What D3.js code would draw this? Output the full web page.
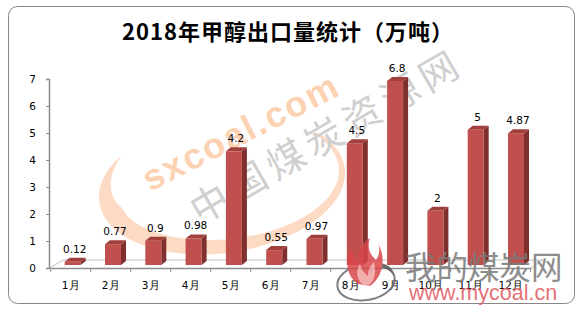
<!DOCTYPE html>
<html>
<head>
<meta charset="utf-8">
<script src="https://cdn.jsdelivr.net/npm/d3@7"></script>
<style>
  body { margin: 0; background: #fff; }
  svg { display: block; }
  .tick text { font-family: "DejaVu Sans", Verdana, sans-serif; font-size: 10.5px; fill: #000; }
</style>
</head>
<body>
<svg id="chart" width="580" height="313"></svg>
<script>
// data
const months = ["1月", "2月", "3月", "4月", "5月", "6月", "7月", "8月", "9月", "10月", "11月", "12月"];
const exports = [0.12, 0.77, 0.9, 0.98, 4.2, 0.55, 0.97, 4.5, 6.8, 2, 5, 4.87];
const yTicks = [0, 1, 2, 3, 4, 5, 6, 7];
const title = "2018年甲醇出口量统计（万吨）";

const svg = d3.select("#chart");

// outer frame
svg.append("rect")
  .attr("x", 8.5).attr("y", 6.5)
  .attr("width", 566).attr("height", 297)
  .attr("rx", 9)
  .attr("fill", "#fff")
  .attr("stroke", "#878787");

svg.append("text")
  .attr("x", 288).attr("y", 40)
  .attr("text-anchor", "middle")
  .attr("font-family", "'Noto Sans CJK SC', sans-serif")
  .attr("font-weight", "bold")
  .attr("font-size", 22)
  .attr("letter-spacing", 1)
  .text(title);

// watermark behind the plot
const wm = svg.append("g").attr("id", "watermark");

// orange crescent (lower part of a tilted ellipse, thick on the left)
const cx = 222, cy = 185, rx = 124, ry = 68, rot = -8 * Math.PI / 180;
const pt = (t, r) => {
  const ex = (rx + r) * Math.cos(t), ey = (ry + r) * Math.sin(t);
  return [cx + ex * Math.cos(rot) - ey * Math.sin(rot), cy + ex * Math.sin(rot) + ey * Math.cos(rot)];
};
const t0 = 220 * Math.PI / 180, t1 = -35 * Math.PI / 180;
const steps = d3.range(0, 1.0001, 0.02);
const thick = s => s < 0.2 ? 20 * s / 0.2 : 20 * (1 - 0.85 * (s - 0.2) / 0.8);
const outer = steps.map(s => pt(t0 + (t1 - t0) * s, 0));
const inner = steps.slice().reverse().map(s => pt(t0 + (t1 - t0) * s, -thick(s)));
wm.append("path")
  .attr("d", d3.line().curve(d3.curveLinearClosed)(outer.concat(inner)))
  .attr("fill", "#fcdac4");

wm.append("text")
  .attr("transform", "translate(150,192) rotate(-27)")
  .attr("font-family", "'Liberation Sans', Arial, sans-serif")
  .attr("font-weight", "bold")
  .attr("font-size", 36)
  .attr("letter-spacing", 2)
  .attr("fill", "#fcd2b3")
  .text("sxcoal.com");

wm.append("text")
  .attr("transform", "translate(200,225) rotate(-30)")
  .attr("font-family", "'Noto Sans CJK SC', sans-serif")
  .attr("font-size", 38)
  .attr("letter-spacing", 6)
  .attr("fill", "#cfcfcf")
  .text("中国煤炭资源网");

// scales
const x = d3.scaleBand().domain(months).range([50.7, 530.7]);
const yAxisScale = d3.scaleLinear().domain([0, 7]).range([268, 79]);
const yBar = d3.scaleLinear().domain([0, 7]).range([265, 75.5]);
const barW = 16, depthX = 5, depthY = 4;
const shift = i => 2 + i * 0.3;

// floor
const floorBack = 260;
svg.append("path")
  .attr("d", d3.line()([[50, 268], [63, floorBack], [543, floorBack], [530.7, 268]]))
  .attr("fill", "none")
  .attr("stroke", "#bfbfbf");

// y axis
const yAxis = d3.axisLeft(yAxisScale).tickValues(yTicks).tickSize(3).tickPadding(10).tickFormat(d3.format("d"));
const gy = svg.append("g").attr("transform", "translate(49,0)").call(yAxis);
gy.select(".domain").attr("stroke", "#8c8c8c").attr("stroke-width", 1.5);
gy.selectAll(".tick line").attr("stroke", "#8c8c8c");

// x axis
const xAxis = d3.axisBottom(x).tickSize(0).tickPadding(14);
const gx = svg.append("g").attr("transform", "translate(0,268)").call(xAxis);
gx.select(".domain").attr("stroke", "#8c8c8c").attr("stroke-width", 1.5);
gx.selectAll(".tick text").attr("font-family", "'Noto Sans CJK SC', sans-serif").attr("font-size", 11);
gx.selectAll(".xsep")
  .data(months.concat(["end"]))
  .enter().append("line")
  .attr("x1", (d, i) => x.range()[0] + i * x.bandwidth())
  .attr("x2", (d, i) => x.range()[0] + i * x.bandwidth())
  .attr("y1", 0).attr("y2", 4)
  .attr("stroke", "#8c8c8c");

// 3d bars
const bars = svg.append("g").attr("id", "bars")
  .selectAll("g")
  .data(exports)
  .enter().append("g")
  .attr("transform", (d, i) => `translate(${x(months[i]) + (x.bandwidth() - barW) / 2 + shift(i)},0)`);

bars.append("polygon")
  .attr("points", d => [[barW, yBar(d)], [barW + depthX, yBar(d) - depthY], [barW + depthX, yBar(0) - depthY], [barW, yBar(0)]].join(" "))
  .attr("fill", "#7f302e");
bars.append("polygon")
  .attr("points", d => [[0, yBar(d)], [depthX, yBar(d) - depthY], [barW + depthX, yBar(d) - depthY], [barW, yBar(d)]].join(" "))
  .attr("fill", "#a03f3c");
bars.append("rect")
  .attr("x", 0)
  .attr("y", d => yBar(d))
  .attr("width", barW)
  .attr("height", d => yBar(0) - yBar(d))
  .attr("fill", "#c0504d");

bars.append("text")
  .attr("x", barW / 2 + 2)
  .attr("y", d => yBar(d) - 9)
  .attr("text-anchor", "middle")
  .attr("font-family", "'DejaVu Sans', Verdana, sans-serif")
  .attr("font-size", 10.5)
  .text(d => d);

// logo in the lower right corner
const logo = svg.append("g").attr("id", "logo").attr("opacity", 0.85);
logo.append("ellipse")
  .attr("cx", 366).attr("cy", 282).attr("rx", 29).attr("ry", 18)
  .attr("transform", "rotate(-10,366,282)")
  .attr("fill", "none")
  .attr("stroke", "#6b6b6b")
  .attr("stroke-width", 2);
logo.append("path")
  .attr("d", "M376,263 C386,262 394,268 394,276 C390,270 384,267 376,267 Z")
  .attr("fill", "#555");
logo.append("path")
  .attr("d", "M358,284 C344,274 346,258 352,248 C352,256 356,260 360,262 C356,250 362,244 370,238 C366,250 372,256 376,260 C380,254 380,248 378,244 C386,256 384,276 370,286 Z")
  .attr("fill", "#d9464a");
logo.append("path")
  .attr("d", "M362,284 C356,278 356,270 360,264 C362,272 366,274 368,276 C368,270 370,266 374,262 C376,272 376,280 368,286 Z")
  .attr("fill", "#f2a0a0");
logo.append("text")
  .attr("x", 405).attr("y", 279)
  .attr("font-family", "'Noto Sans CJK SC', sans-serif")
  .attr("font-size", 31.5)
  .attr("fill", "#7a7a7a")
  .text("我的煤炭网");
logo.append("text")
  .attr("x", 409).attr("y", 300)
  .attr("font-family", "'Liberation Sans', Arial, sans-serif")
  .attr("font-size", 21.5)
  .attr("fill", "#e05a5f")
  .text("www.mycoal.cn");
</script>
</body>
</html>
